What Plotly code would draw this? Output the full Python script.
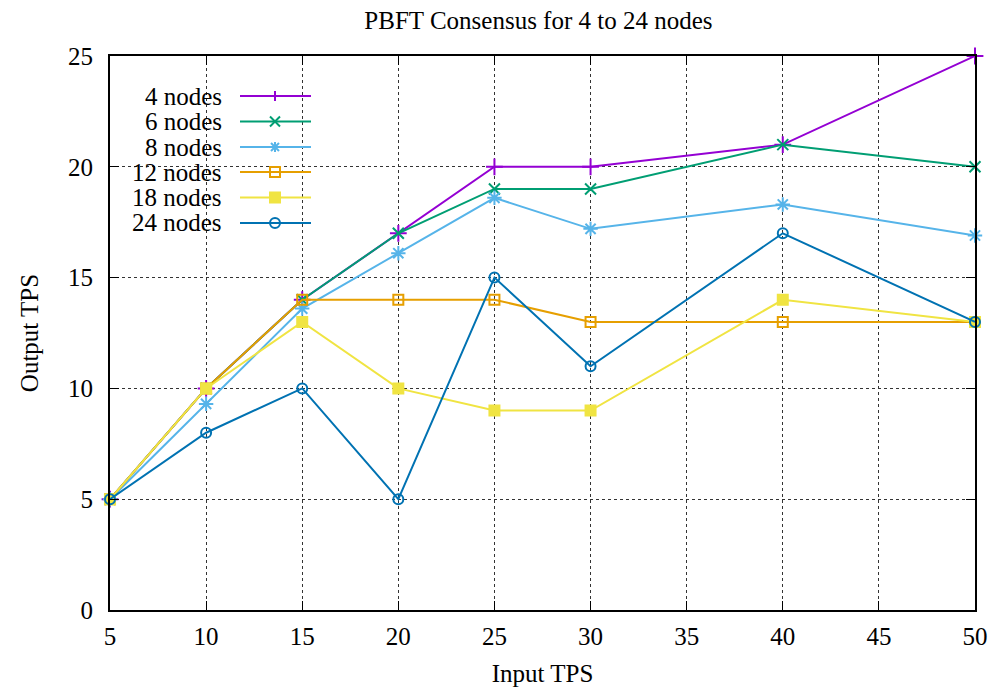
import plotly.graph_objects as go

input_tps = [5, 10, 15, 20, 25, 30, 40, 50]
series_names = ["4 nodes", "6 nodes", "8 nodes", "12 nodes", "18 nodes", "24 nodes"]
nodes4 = [5, 10, 14, 17, 20, 20, 21, 25]
nodes6 = [5, 10, 14, 17, 19, 19, 21, 20]
nodes8 = [5, 9.3, 13.6, 16.1, 18.6, 17.2, 18.3, 16.9]
nodes12 = [5, 10, 14, 14, 14, 13, 13, 13]
nodes18 = [5, 10, 13, 10, 9, 9, 14, 13]
nodes24 = [5, 8, 10, 5, 15, 11, 17, 13]

values = [nodes4, nodes6, nodes8, nodes12, nodes18, nodes24]
colors = ["#9400D3", "#009E73", "#56B4E9", "#E69F00", "#F0E442", "#0072B2"]
symbols = ["cross-thin-open", "x-thin-open", "asterisk-open", "square-open", "square", "circle-open"]
sizes = [12, 11, 12, 10, 10, 10]

font = "Liberation Serif"
FS = 25
W, H = 988, 687
ML, MR, MT, MB = 110, 13, 56, 77
PW, PH = W - ML - MR, H - MT - MB

fig = go.Figure()
for name, ys, c, s, sz in zip(series_names, values, colors, symbols, sizes):
    fig.add_trace(go.Scatter(
        x=input_tps, y=ys, name=name, mode="lines+markers",
        line=dict(color=c, width=2),
        marker=dict(symbol=s, size=sz, color=c, line=dict(color=c, width=2)),
        cliponaxis=False, showlegend=False,
    ))

# gnuplot-style key: right-aligned text followed by a line sample
def px_x(p):
    return (p - ML) / PW

def px_y(p):
    return (H - MB - p) / PH

key_rows = [96, 121.5, 147, 172, 197.5, 223]
text_right, samp_l, samp_r, samp_c = 224, 240, 311, 275
m = 5
glyphs = {
    "cross-thin-open": dict(type="path", path=f"M{-m},0 L{m},0 M0,{-m} L0,{m}"),
    "x-thin-open": dict(type="path", path=f"M{-m},{-m} L{m},{m} M{-m},{m} L{m},{-m}"),
    "asterisk-open": dict(type="path", path=f"M{-m},0 L{m},0 M0,{-m} L0,{m} M-4,-4 L4,4 M-4,4 L4,-4"),
    "square-open": dict(type="rect", x0=-m, x1=m, y0=-m, y1=m),
    "square": dict(type="rect", x0=-m, x1=m, y0=-m, y1=m),
    "circle-open": dict(type="circle", x0=-m, x1=m, y0=-m, y1=m),
}
for name, c, s, ry in zip(series_names, colors, symbols, key_rows):
    yp = px_y(ry)
    fig.add_annotation(x=px_x(text_right), y=yp, xref="paper", yref="paper",
                       text=name, showarrow=False, xanchor="right", yanchor="middle",
                       font=dict(family=font, size=FS, color="black"))
    fig.add_shape(type="line", xref="paper", yref="paper",
                  x0=px_x(samp_l), x1=px_x(samp_r), y0=yp, y1=yp,
                  line=dict(color=c, width=2))
    g = dict(glyphs[s])
    g.update(xref="paper", yref="paper", xsizemode="pixel", ysizemode="pixel",
             xanchor=px_x(samp_c), yanchor=yp, line=dict(color=c, width=2))
    if s == "square":
        g["fillcolor"] = c
    fig.add_shape(**g)

axis_common = dict(
    showgrid=True, gridcolor="#333333", griddash="dot", gridwidth=1,
    showline=True, linecolor="black", linewidth=2, mirror="allticks",
    ticks="inside", ticklen=9, tickcolor="black", tickwidth=1,
    zeroline=False, automargin=False,
    tickfont=dict(family=font, size=FS, color="black"),
)
fig.update_xaxes(range=[5, 50], dtick=5, tick0=5, ticklabelstandoff=3,
                 title=dict(text="Input TPS", font=dict(family=font, size=FS, color="black"), standoff=20),
                 **axis_common)
fig.update_yaxes(range=[0, 25], dtick=5, ticklabelstandoff=10,
                 title=dict(text="Output TPS", font=dict(family=font, size=FS, color="black"), standoff=22),
                 **axis_common)

fig.update_layout(
    width=W, height=H,
    margin=dict(l=ML, r=MR, t=MT, b=MB),
    paper_bgcolor="white", plot_bgcolor="white",
    title=dict(text="PBFT Consensus for 4 to 24 nodes", x=0.545, xanchor="center",
               y=1 - 20 / H, yanchor="middle", font=dict(family=font, size=FS, color="black")),
    showlegend=False,
)
fig.write_html("out.html")
